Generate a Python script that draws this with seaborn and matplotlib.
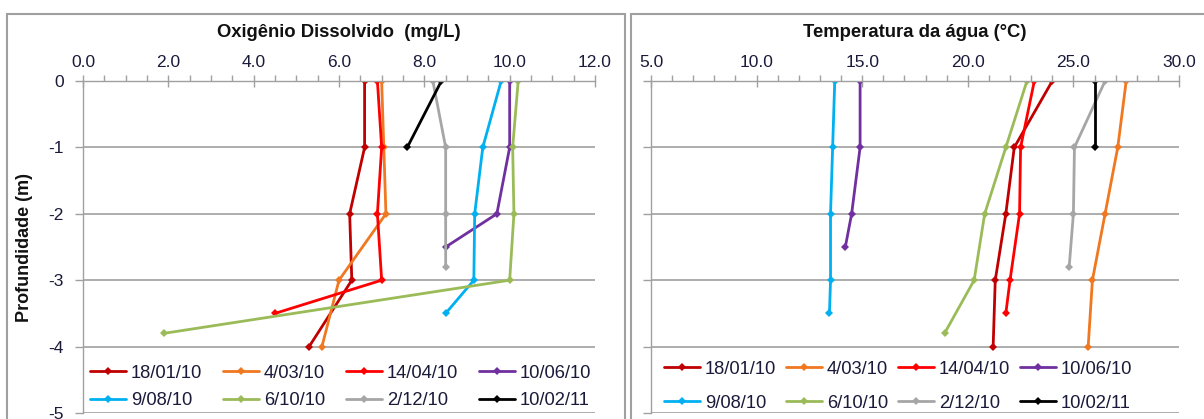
import matplotlib
matplotlib.use("Agg")
import matplotlib.pyplot as plt
import seaborn as sns
import pandas as pd
from matplotlib.patches import Rectangle
from matplotlib.ticker import MultipleLocator

sns.set_theme(style="white")
plt.rcParams['font.family'] = ['Liberation Sans', 'DejaVu Sans']

dates = ["18/01/10", "4/03/10", "14/04/10", "10/06/10",
         "9/08/10", "6/10/10", "2/12/10", "10/02/11"]
colors = ["#C00000", "#F07820", "#FF0000", "#7030A0",
          "#00B0F0", "#9BBB59", "#A6A6A6", "#000000"]

depth_18_01 = [0, -1, -2, -3, -4]
depth_04_03 = [0, -1, -2, -3, -4]
depth_14_04 = [0, -1, -2, -3, -3.5]
depth_10_06 = [0, -1, -2, -2.5]
depth_09_08 = [0, -1, -2, -3, -3.5]
depth_06_10 = [0, -1, -2, -3, -3.8]
depth_02_12 = [0, -1, -2, -2.8]
depth_10_02 = [0, -1]

do_18_01 = [6.6, 6.6, 6.25, 6.3, 5.3]
do_04_03 = [7.0, 7.05, 7.1, 6.0, 5.6]
do_14_04 = [6.9, 7.0, 6.9, 7.0, 4.5]
do_10_06 = [10.0, 10.0, 9.7, 8.5]
do_09_08 = [9.8, 9.37, 9.18, 9.16, 8.5]
do_06_10 = [10.2, 10.07, 10.1, 10.0, 1.9]
do_02_12 = [8.2, 8.5, 8.5, 8.5]
do_10_02 = [8.4, 7.6]

t_18_01 = [24.0, 22.2, 21.8, 21.3, 21.2]
t_04_03 = [27.5, 27.1, 26.5, 25.9, 25.7]
t_14_04 = [23.15, 22.5, 22.45, 22.0, 21.8]
t_10_06 = [14.9, 14.9, 14.5, 14.2]
t_09_08 = [13.7, 13.6, 13.5, 13.5, 13.45]
t_06_10 = [22.8, 21.8, 20.8, 20.3, 18.9]
t_02_12 = [26.5, 25.05, 25.0, 24.8]
t_10_02 = [26.0, 26.0]

depths = [depth_18_01, depth_04_03, depth_14_04, depth_10_06,
          depth_09_08, depth_06_10, depth_02_12, depth_10_02]
dos = [do_18_01, do_04_03, do_14_04, do_10_06, do_09_08, do_06_10, do_02_12, do_10_02]
temps = [t_18_01, t_04_03, t_14_04, t_10_06, t_09_08, t_06_10, t_02_12, t_10_02]

rows = []
for d, dep, o, t in zip(dates, depths, dos, temps):
    for i in range(len(dep)):
        rows.append({"date": d, "depth": dep[i], "DO": o[i], "T": t[i]})
df = pd.DataFrame(rows)
palette = dict(zip(dates, colors))

W, H = 1204, 419
fig = plt.figure(figsize=(W / 100, H / 100), dpi=100)

# panel frames
fig.patches.append(Rectangle((7 / W, -0.1), (625 - 7) / W, 1 - 14 / H + 0.1,
                             transform=fig.transFigure, fill=False,
                             edgecolor="#A0A0A0", linewidth=1.5))
fig.patches.append(Rectangle((631 / W, -0.1), 0.6, 1 - 14 / H + 0.1,
                             transform=fig.transFigure, fill=False,
                             edgecolor="#A0A0A0", linewidth=1.5))

ax1 = fig.add_axes([83 / W, 1 - 413 / H, (595 - 83) / W, (413 - 81) / H])
ax2 = fig.add_axes([651 / W, 1 - 413 / H, (1179 - 651) / W, (413 - 81) / H])

grid_c = "#A0A0A0"
tick_c = "#1a1a3a"

def style(ax, xlim, major, minor, title, show_y):
    ax.set_xlim(*xlim)
    ax.set_ylim(-5, 0)
    ax.xaxis.set_major_locator(MultipleLocator(major))
    ax.xaxis.set_minor_locator(MultipleLocator(minor))
    ax.xaxis.tick_top()
    ax.xaxis.set_label_position("top")
    ax.set_xticklabels([f"{v:.1f}" for v in ax.get_xticks()])
    ax.tick_params(axis="x", which="major", direction="inout", length=8, width=1,
                   color=grid_c, labelsize=12.5, labelcolor=tick_c, pad=4, top=True, bottom=False)
    ax.tick_params(axis="x", which="minor", direction="out", length=4, width=1,
                   color=grid_c, top=True, bottom=False)
    ax.set_yticks([0, -1, -2, -3, -4, -5])
    ax.tick_params(axis="y", which="major", direction="out", length=6, width=1,
                   color=grid_c, labelsize=12.5, labelcolor=tick_c, left=True,
                   labelleft=show_y, pad=8)
    if show_y:
        ax.set_yticklabels(["0", "-1", "-2", "-3", "-4", "-5"])
    for s in ["right", "bottom"]:
        ax.spines[s].set_visible(False)
    for s in ["top", "left"]:
        ax.spines[s].set_color(grid_c)
        ax.spines[s].set_linewidth(1)
    for y in [-1, -2, -3, -4, -5]:
        ax.axhline(y, color=grid_c, linewidth=1.2, zorder=0)
    ax.set_xlabel(title, fontsize=13.3, fontweight="bold",
                  labelpad=13, color="#111111")
    ax.set_ylabel("")
    ax.patch.set_alpha(0)

kw = dict(hue="date", hue_order=dates, palette=palette, sort=False, estimator=None,
          marker="D", markersize=4, markeredgewidth=0, linewidth=2)
sns.lineplot(data=df, x="DO", y="depth", ax=ax1, **kw)
sns.lineplot(data=df, x="T", y="depth", ax=ax2, **kw)

style(ax1, (0, 12), 2, 0.5, "Oxigênio Dissolvido  (mg/L)", True)
style(ax2, (5, 30), 5, 1, "Temperatura da água (°C)", False)

ax1.set_ylabel("Profundidade (m)", fontsize=13, fontweight="bold",
               labelpad=11, color="#111111")

order = [0, 4, 1, 5, 2, 6, 3, 7]
for ax, anchor, cs, ls in [(ax1, (0.0137, 0.145), 1.15, 0.55),
                           (ax2, (0.0246, 0.158), 0.55, 0.93)]:
    h, l = ax.get_legend_handles_labels()
    h = [h[i] for i in order]
    l = [l[i] for i in order]
    ax.legend(h, l, ncol=4, loc="upper left", bbox_to_anchor=anchor, frameon=False,
              fontsize=13.2, handlelength=1.97, columnspacing=cs, handletextpad=0.25,
              labelspacing=ls, borderaxespad=0, borderpad=0, labelcolor=tick_c)

fig.savefig("out.png", dpi=100, facecolor="white")
